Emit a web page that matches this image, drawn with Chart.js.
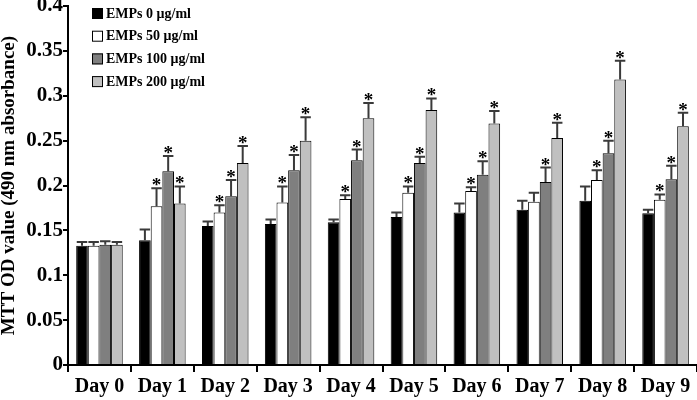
<!DOCTYPE html>
<html><head><meta charset="utf-8">
<script src="https://cdn.jsdelivr.net/npm/chart.js@4/dist/chart.umd.min.js"></script>
<style>html,body{margin:0;padding:0;background:#fff}#wrap{width:697px;height:400px}</style>
</head><body><div id="wrap"><canvas id="c" width="697" height="400"></canvas></div>
<script>
const categories = ['Day 0','Day 1','Day 2','Day 3','Day 4','Day 5','Day 6','Day 7','Day 8','Day 9'];
const seriesNames = ['EMPs 0 \u03bcg/ml','EMPs 50 \u03bcg/ml','EMPs 100 \u03bcg/ml','EMPs 200 \u03bcg/ml'];
const emp0   = [0.133, 0.139, 0.155, 0.157, 0.159, 0.165, 0.170, 0.173, 0.183, 0.169];
const emp50  = [0.133, 0.177, 0.170, 0.181, 0.185, 0.192, 0.194, 0.182, 0.206, 0.184];
const emp100 = [0.134, 0.216, 0.188, 0.217, 0.228, 0.225, 0.212, 0.204, 0.236, 0.207];
const emp200 = [0.134, 0.180, 0.225, 0.250, 0.275, 0.284, 0.269, 0.253, 0.318, 0.266];
const err0   = [0.004, 0.012, 0.005, 0.005, 0.003, 0.005, 0.010, 0.010, 0.016, 0.004];
const err50  = [0.004, 0.020, 0.008, 0.018, 0.004, 0.007, 0.004, 0.010, 0.011, 0.006];
const err100 = [0.004, 0.017, 0.018, 0.017, 0.012, 0.007, 0.015, 0.016, 0.014, 0.015];
const err200 = [0.003, 0.019, 0.019, 0.026, 0.017, 0.013, 0.014, 0.017, 0.021, 0.015];
const sig0   = [0,0,0,0,0,0,0,0,0,0];
const sig50  = [0,1,1,1,1,1,1,0,1,1];
const sig100 = [0,1,1,1,1,1,1,1,1,1];
const sig200 = [0,1,1,1,1,1,1,1,1,1];
const yTicks = [0,0.05,0.1,0.15,0.2,0.25,0.3,0.35,0.4];
const yTitle = 'MTT OD value (490 nm absorbance)';

const values = [emp0, emp50, emp100, emp200];
const errs = [err0, err50, err100, err200];
const sigs = [sig0, sig50, sig100, sig200];
const fills = ['#000000','#ffffff','#7f7f7f','#c0c0c0'];
const FONT = '"Liberation Serif", "Times New Roman", serif';

const errPlugin = {
  id: 'errbars',
  afterDatasetsDraw(chart) {
    const ctx = chart.ctx, y = chart.scales.y;
    chart.data.datasets.forEach((ds, di) => {
      const meta = chart.getDatasetMeta(di);
      meta.data.forEach((bar, i) => {
        const v = ds.data[i], e = errs[di][i];
        const yTop = y.getPixelForValue(v), yCap = y.getPixelForValue(v + e);
        const w = bar.width;
        ctx.save();
        ctx.strokeStyle = '#3a3a3a'; ctx.lineWidth = 2;
        ctx.beginPath();
        ctx.moveTo(bar.x, yTop); ctx.lineTo(bar.x, yCap);
        ctx.moveTo(bar.x - w * 0.45, yCap); ctx.lineTo(bar.x + w * 0.45, yCap);
        ctx.stroke();
        if (sigs[di][i]) {
          ctx.fillStyle = '#000';
          ctx.font = 'bold 19px ' + FONT;
          ctx.textAlign = 'center'; ctx.textBaseline = 'alphabetic';
          ctx.fillText('*', bar.x, yCap + 3);
        }
        ctx.restore();
      });
    });
  }
};

const legendPlugin = {
  id: 'customLegend',
  afterDraw(chart) {
    const ctx = chart.ctx;
    ctx.save();
    chart.data.datasets.forEach((ds, i) => {
      const cy = 13 + i * 22.7;
      ctx.fillStyle = ds.backgroundColor;
      ctx.fillRect(92, cy - 5, 11, 11);
      ctx.strokeStyle = '#000'; ctx.lineWidth = 1;
      ctx.strokeRect(92.5, cy - 4.5, 10, 10);
      ctx.fillStyle = '#000';
      ctx.font = 'bold 14px ' + FONT;
      ctx.textAlign = 'left'; ctx.textBaseline = 'middle';
      ctx.fillText(ds.label, 106, cy + 1);
    });
    ctx.restore();
  }
};

new Chart(document.getElementById('c'), {
  type: 'bar',
  data: {
    labels: categories,
    datasets: values.map((v, i) => ({
      label: seriesNames[i], data: v,
      backgroundColor: fills[i], borderColor: '#000', borderWidth: 1,
      categoryPercentage: 0.74, barPercentage: 1.0
    }))
  },
  options: {
    responsive: false, animation: false, devicePixelRatio: 1,
    layout: { padding: { top: 6, right: 0, left: 0, bottom: 0 } },
    plugins: { legend: { display: false }, tooltip: { enabled: false } },
    scales: {
      x: {
        grid: { display: true, drawOnChartArea: false, drawTicks: true, tickLength: 7, color: '#000', lineWidth: 2, offset: true },
        border: { display: true, color: '#000', width: 2 },
        ticks: { color: '#000', font: { family: FONT, size: 20, weight: 'bold' }, padding: 3, maxRotation: 0 },
        afterFit(s) { s.height = 35; s.paddingLeft = 0; s.paddingRight = 0; }
      },
      y: {
        min: 0, max: 0.4,
        afterBuildTicks(s) { s.ticks = yTicks.map(v => ({ value: v })); },
        grid: { display: true, drawOnChartArea: false, drawTicks: true, tickLength: 5, color: '#000', lineWidth: 2 },
        border: { display: true, color: '#000', width: 2 },
        ticks: { color: '#000', font: { family: FONT, size: 21, weight: 'bold' }, padding: 0,
          callback: v => String(+(+v).toFixed(2)) },
        title: { display: true, text: yTitle, color: '#000', font: { family: FONT, size: 19, weight: 'bold', lineHeight: 1 }, padding: { top: 0, bottom: 0 } },
        afterFit(s) { s.width = 68; s.paddingTop = 0; s.paddingBottom = 0; }
      }
    }
  },
  plugins: [errPlugin, legendPlugin]
});
</script>
</body></html>
